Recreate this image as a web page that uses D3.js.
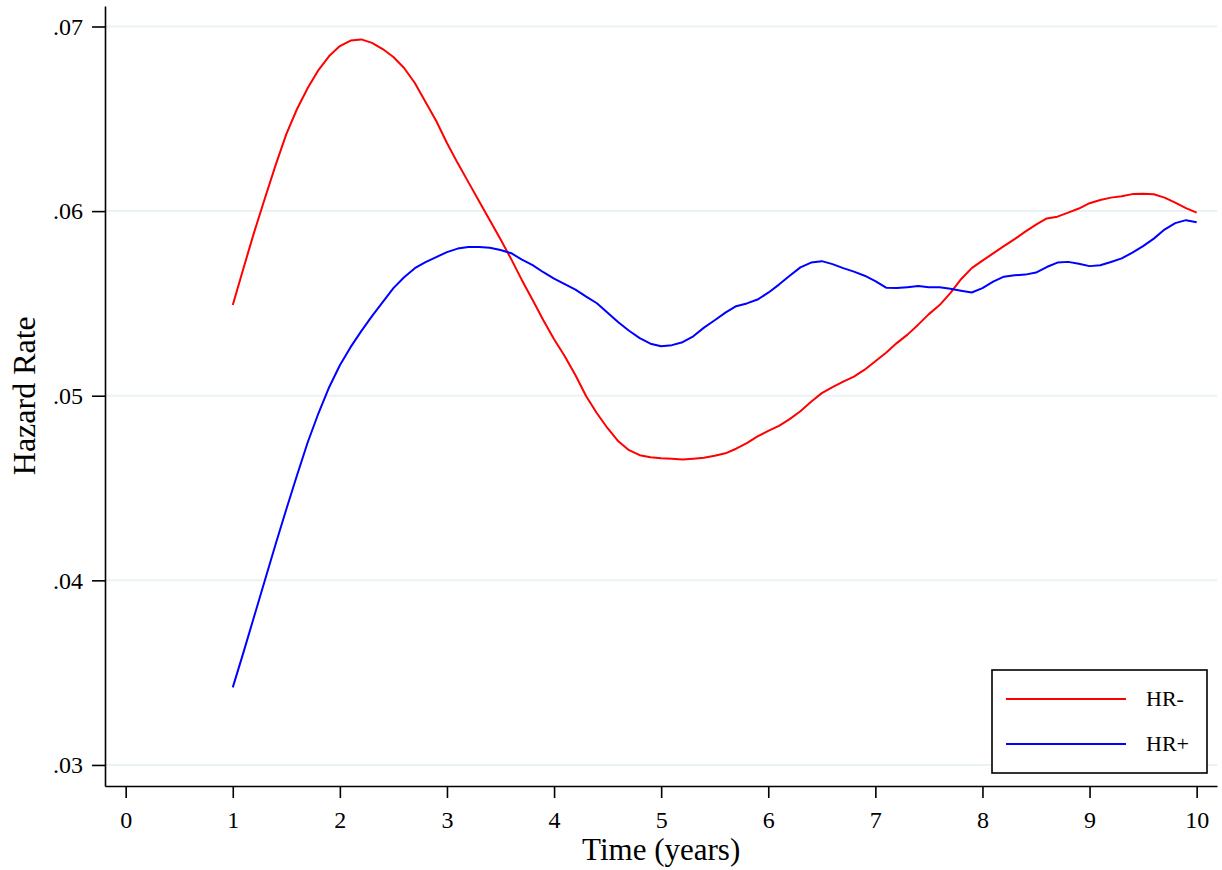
<!DOCTYPE html>
<html>
<head>
<meta charset="utf-8">
<script src="https://cdn.jsdelivr.net/npm/d3@7"></script>
<style>
  body { margin: 0; background: #fff; }
  svg text { font-family: "Liberation Serif", "Times New Roman", serif; fill: #000; }
</style>
</head>
<body>
<div id="chart-area"></div>
<script>
// time grid (years)
const times = d3.range(91).map(i => +(1 + i * 0.1).toFixed(1));

// HR- (red)
const hrNeg = [
  0.05491, 0.05691, 0.05886, 0.06070, 0.06249, 0.06417, 0.06553, 0.06667, 0.06764, 0.06840,
  0.06894, 0.06924, 0.06930, 0.06911, 0.06878, 0.06835, 0.06775, 0.06694, 0.06591, 0.06488,
  0.06369, 0.06260, 0.06157, 0.06054, 0.05951, 0.05848, 0.05740, 0.05626, 0.05518, 0.05409,
  0.05306, 0.05214, 0.05111, 0.04997, 0.04905, 0.04824, 0.04753, 0.04705, 0.04678, 0.04667,
  0.04661, 0.04659, 0.04654, 0.04659, 0.04664, 0.04675, 0.04688, 0.04713, 0.04743, 0.04780,
  0.04810, 0.04837, 0.04873, 0.04916, 0.04967, 0.05014, 0.05046, 0.05076, 0.05103, 0.05141,
  0.05187, 0.05233, 0.05285, 0.05331, 0.05385, 0.05442, 0.05491, 0.05556, 0.05631, 0.05691,
  0.05732, 0.05771, 0.05810, 0.05848, 0.05889, 0.05927, 0.05960, 0.05970, 0.05992, 0.06014,
  0.06043, 0.06060, 0.06073, 0.06081, 0.06092, 0.06094, 0.06091, 0.06073, 0.06046, 0.06016,
  0.05992
];

// HR+ (blue)
const hrPos = [
  0.03420, 0.03610, 0.03805, 0.04000, 0.04195, 0.04385, 0.04569, 0.04748, 0.04905, 0.05046,
  0.05165, 0.05263, 0.05350, 0.05431, 0.05507, 0.05583, 0.05642, 0.05691, 0.05724, 0.05751,
  0.05778, 0.05797, 0.05805, 0.05805, 0.05802, 0.05789, 0.05772, 0.05737, 0.05707, 0.05669,
  0.05634, 0.05604, 0.05575, 0.05537, 0.05501, 0.05450, 0.05398, 0.05352, 0.05312, 0.05282,
  0.05268, 0.05274, 0.05290, 0.05322, 0.05369, 0.05409, 0.05450, 0.05485, 0.05500, 0.05521,
  0.05558, 0.05602, 0.05650, 0.05695, 0.05721, 0.05729, 0.05713, 0.05691, 0.05672, 0.05650,
  0.05621, 0.05585, 0.05583, 0.05588, 0.05594, 0.05588, 0.05588, 0.05580, 0.05569, 0.05559,
  0.05583, 0.05618, 0.05645, 0.05652, 0.05656, 0.05667, 0.05697, 0.05721, 0.05725, 0.05715,
  0.05702, 0.05707, 0.05724, 0.05744, 0.05775, 0.05810, 0.05851, 0.05900, 0.05935, 0.05951,
  0.05940
];

const xTicks = [0, 1, 2, 3, 4, 5, 6, 7, 8, 9, 10];
const yTicks = [0.03, 0.04, 0.05, 0.06, 0.07];
const seriesNames = ["HR-", "HR+"];
const seriesColors = ["#ff0000", "#0000ff"];

let width = 1222, height = 870;

let svg = d3
  .select("#chart-area")
  .append("svg")
  .attr("width", width)
  .attr("height", height);

// scales (domain padded so the axis lines run past the first/last tick)
let x = d3.scaleLinear().domain([-0.193, 10.19]).range([105, 1217]);
let y = d3.scaleLinear().domain([0.02886, 0.07111]).range([786, 6]);

// GRID
svg
  .append("g")
  .selectAll("line")
  .data(yTicks)
  .enter()
  .append("line")
  .attr("x1", x.range()[0])
  .attr("x2", x.range()[1])
  .attr("y1", d => y(d))
  .attr("y2", d => y(d))
  .attr("stroke", "#eaf2f3")
  .attr("stroke-width", 2);

// AXIS
let xAxis = d3
  .axisBottom(x)
  .tickValues(xTicks)
  .tickSizeInner(12)
  .tickSizeOuter(0)
  .tickPadding(13)
  .tickFormat(d3.format("d"));

let yAxis = d3
  .axisLeft(y)
  .tickValues(yTicks)
  .tickSizeInner(13)
  .tickSizeOuter(0)
  .tickPadding(9)
  .tickFormat(d => d3.format(".2f")(d).replace(/^0/, ""));

let xAxisGroup = svg
  .append("g")
  .attr("class", "x-axis axis")
  .attr("transform", "translate(0," + y.range()[0] + ")")
  .call(xAxis);

let yAxisGroup = svg
  .append("g")
  .attr("class", "y-axis axis")
  .attr("transform", "translate(" + x.range()[0] + ",0)")
  .call(yAxis);

svg.selectAll(".axis path, .axis line")
  .attr("stroke", "#000")
  .attr("stroke-width", 1.6);
svg.selectAll(".axis text")
  .style("font-family", "'Liberation Serif', serif")
  .style("font-size", "24px")
  .attr("fill", "#000");

// LINES
let line = d3
  .line()
  .x((d, i) => x(times[i]))
  .y(d => y(d));

[hrNeg, hrPos].forEach(function(series, k) {
  svg
    .append("path")
    .datum(series)
    .attr("fill", "none")
    .attr("stroke", seriesColors[k])
    .attr("stroke-width", 2)
    .attr("stroke-linejoin", "round")
    .attr("d", line);
});

// AXIS TITLES
svg
  .append("text")
  .attr("class", "axis-title")
  .attr("x", (x(0) + x(10)) / 2)
  .attr("y", 860)
  .style("text-anchor", "middle")
  .style("font-size", "31px")
  .text("Time (years)");

svg
  .append("text")
  .attr("class", "axis-title")
  .attr("transform", "translate(35," + y(0.05) + ") rotate(-90)")
  .style("text-anchor", "middle")
  .style("font-size", "32px")
  .text("Hazard Rate");

// LEGEND
let legend = svg.append("g").attr("transform", "translate(992,670)");
legend
  .append("rect")
  .attr("width", 215)
  .attr("height", 103)
  .attr("fill", "#fff")
  .attr("stroke", "#000")
  .attr("stroke-width", 1.6);

seriesNames.forEach(function(name, k) {
  let ly = 29 + k * 45;
  legend
    .append("line")
    .attr("x1", 14)
    .attr("x2", 134)
    .attr("y1", ly)
    .attr("y2", ly)
    .attr("stroke", seriesColors[k])
    .attr("stroke-width", 2);
  legend
    .append("text")
    .attr("x", 154)
    .attr("y", ly + 7)
    .style("font-size", "22px")
    .text(name);
});
</script>
</body>
</html>
